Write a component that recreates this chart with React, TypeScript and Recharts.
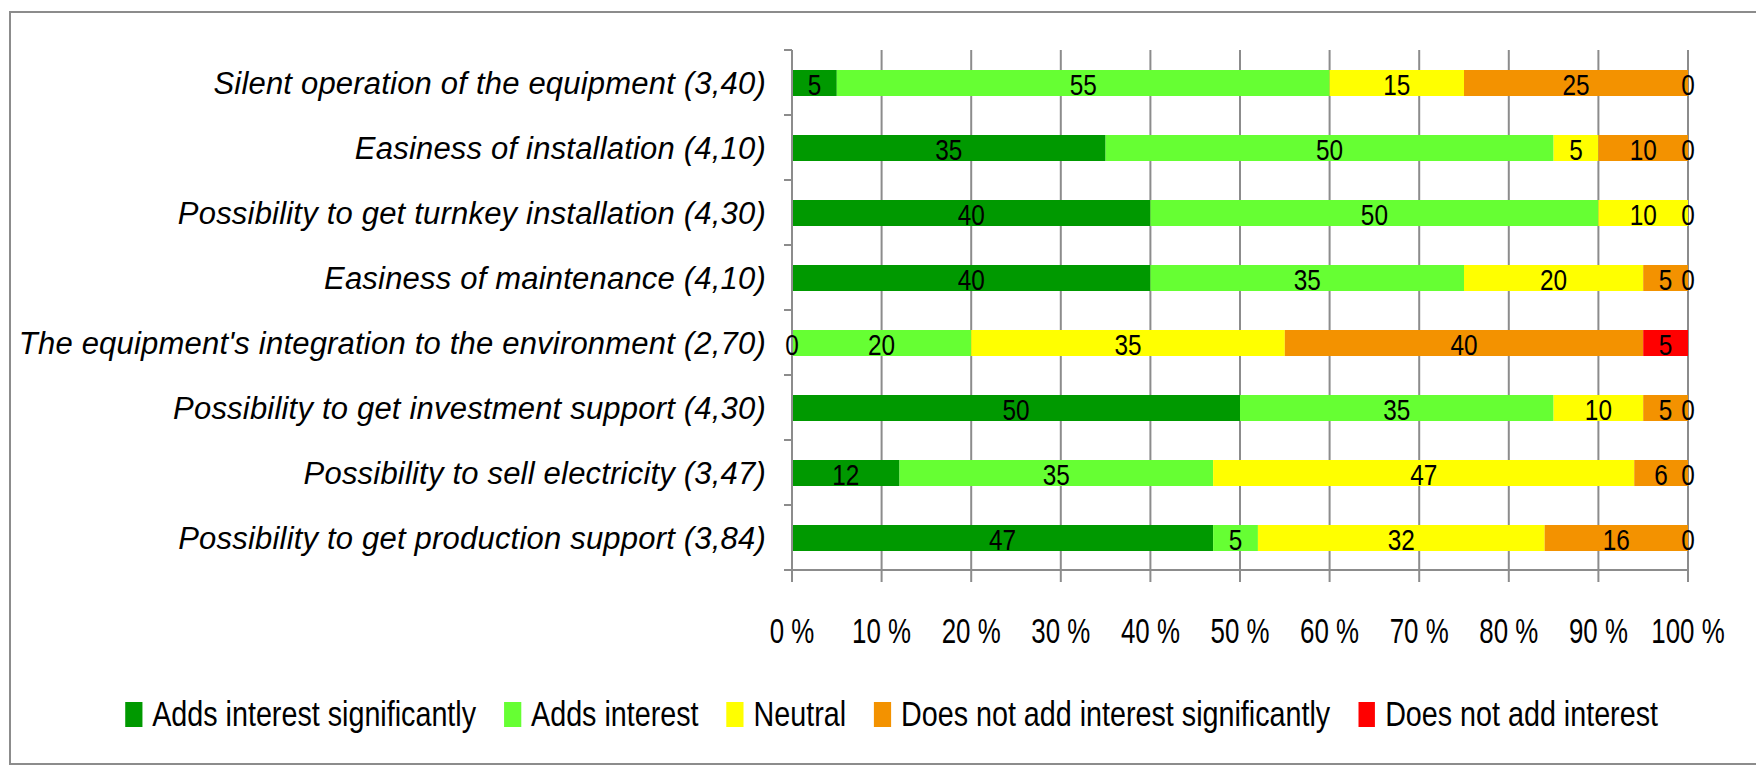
import { BarChart, Bar, XAxis, YAxis, CartesianGrid, Legend, LabelList } from "recharts"

const categories = [
  "Silent operation of the equipment (3,40)",
  "Easiness of installation (4,10)",
  "Possibility to get turnkey installation (4,30)",
  "Easiness of maintenance (4,10)",
  "The equipment's integration to the environment (2,70)",
  "Possibility to get investment support (4,30)",
  "Possibility to sell electricity (3,47)",
  "Possibility to get production support (3,84)",
]

const addsSignificantly = [5, 35, 40, 40, 0, 50, 12, 47]
const addsInterest = [55, 50, 50, 35, 20, 35, 35, 5]
const neutral = [15, 5, 10, 20, 35, 10, 47, 32]
const notSignificantly = [25, 10, 0, 5, 40, 5, 6, 16]
const notAdd = [0, 0, 0, 0, 5, 0, 0, 0]

const xTicks = [0, 10, 20, 30, 40, 50, 60, 70, 80, 90, 100]

const series = [
  { key: "sig", name: "Adds interest significantly", color: "#009900" },
  { key: "add", name: "Adds interest", color: "#66ff33" },
  { key: "neu", name: "Neutral", color: "#ffff00" },
  { key: "notSig", name: "Does not add interest significantly", color: "#f39200" },
  { key: "not", name: "Does not add interest", color: "#ff0000" },
]

const data = categories.map((name, i) => ({
  name,
  sig: addsSignificantly[i],
  add: addsInterest[i],
  neu: neutral[i],
  notSig: notSignificantly[i],
  not: notAdd[i],
}))

const FONT = '"Liberation Sans", Arial, sans-serif'
const GRID = "#8c8c8c"
const CHART_W = 1747
const CHART_H = 750
const MARGIN = { top: 37, right: 70, left: 0, bottom: 24 }
const X_AXIS_H = 119
const LEGEND_H = 50
const PLOT_H = CHART_H - MARGIN.top - MARGIN.bottom - X_AXIS_H - LEGEND_H
const BAND = PLOT_H / categories.length
const Y_TICK = 8
const Y_MARGIN = 18
// the original text is narrow and tall, so squeeze it horizontally
const TICK_SX = 0.74
const LABEL_SX = 0.84
const LEGEND_SX = 0.82

function CategoryTick(props: any) {
  const { x, y, payload, index } = props
  const axisX = x + Y_TICK + Y_MARGIN
  const top = y - BAND / 2
  const bottom = y + BAND / 2
  return (
    <g>
      <line x1={axisX - Y_TICK} x2={axisX} y1={top} y2={top} stroke={GRID} strokeWidth={2} />
      {index === categories.length - 1 && (
        <line x1={axisX - Y_TICK} x2={axisX} y1={bottom} y2={bottom} stroke={GRID} strokeWidth={2} />
      )}
      <text
        x={x}
        y={y}
        dy="0.36em"
        textAnchor="end"
        fill="#000"
        fontSize={31}
        letterSpacing={0.2}
        fontStyle="italic"
        fontFamily={FONT}
      >
        {payload.value}
      </text>
    </g>
  )
}

function PercentTick(props: any) {
  const { x, y, payload } = props
  return (
    <text
      transform={`translate(${x},${y + 1}) scale(${TICK_SX},1)`}
      dy="0.71em"
      textAnchor="middle"
      fill="#000"
      fontSize={35}
      fontFamily={FONT}
    >
      {`${payload.value} %`}
    </text>
  )
}

function Num({ x, y, value }: { x: number; y: number; value: number }) {
  return (
    <text
      transform={`translate(${x},${y}) scale(${LABEL_SX},1)`}
      dy="0.42em"
      textAnchor="middle"
      fill="#000"
      fontSize={29}
      fontFamily={FONT}
    >
      {value}
    </text>
  )
}

// zero-width segments get no label from Recharts, so the neighbouring
// segment also writes the "0" at its own edge
function SegmentLabel(props: any) {
  const { x, y, width, height, value, seriesIndex } = props
  const cy = y + height / 2
  const rowIndex = Math.round((cy - MARGIN.top - BAND / 2) / BAND)
  const row: any = data[rowIndex]
  const values = series.map((s) => (row ? row[s.key] : 1))
  const before = values.slice(0, seriesIndex)
  const after = values.slice(seriesIndex + 1)
  const leadingZero = seriesIndex > 0 && before.every((v) => v === 0)
  const trailingZero = after.length > 0 && after.every((v) => v === 0)
  return (
    <g>
      <Num x={x + width / 2} y={cy} value={value} />
      {leadingZero && <Num x={x} y={cy} value={0} />}
      {trailingZero && <Num x={x + width} y={cy} value={0} />}
    </g>
  )
}

function LegendContent() {
  return (
    <div
      style={{
        height: LEGEND_H,
        display: "flex",
        justifyContent: "center",
        alignItems: "center",
        paddingLeft: 14,
      }}
    >
      <div
        style={{
          display: "flex",
          alignItems: "center",
          whiteSpace: "nowrap",
          transform: `scaleX(${LEGEND_SX})`,
          fontFamily: FONT,
          fontSize: 35,
          color: "#000",
        }}
      >
        {series.map((s, i) => (
          <div
            key={s.key}
            style={{ display: "flex", alignItems: "center", marginLeft: i === 0 ? 0 : 28 / LEGEND_SX }}
          >
            <span
              style={{
                display: "inline-block",
                width: 17 / LEGEND_SX,
                height: 25,
                background: s.color,
                marginRight: 10 / LEGEND_SX,
              }}
            />
            <span>{s.name}</span>
          </div>
        ))}
      </div>
    </div>
  )
}

export default function App() {
  return (
    <div
      style={{
        width: CHART_W + 4,
        height: CHART_H + 4,
        marginLeft: 1,
        marginTop: 3,
        border: `2px solid ${GRID}`,
        boxSizing: "border-box",
        background: "#fff",
      }}
    >
      <BarChart width={CHART_W} height={CHART_H} data={data} layout="vertical" margin={MARGIN}>
        <CartesianGrid horizontal={false} stroke={GRID} strokeWidth={2} />
        <XAxis
          type="number"
          domain={[0, 100]}
          ticks={xTicks}
          height={X_AXIS_H}
          stroke={GRID}
          strokeWidth={2}
          tickSize={12}
          tickMargin={35}
          tick={<PercentTick />}
          interval={0}
        />
        <YAxis
          type="category"
          dataKey="name"
          width={781}
          stroke={GRID}
          strokeWidth={2}
          tickLine={false}
          tickSize={Y_TICK}
          tickMargin={Y_MARGIN}
          tick={<CategoryTick />}
          interval={0}
        />
        <Legend
          verticalAlign="bottom"
          height={LEGEND_H}
          wrapperStyle={{ left: 0, width: CHART_W }}
          content={<LegendContent />}
        />
        {series.map((s, k) => (
          <Bar
            key={s.key}
            dataKey={s.key}
            name={s.name}
            stackId="a"
            fill={s.color}
            barSize={26}
            isAnimationActive={false}
          >
            <LabelList dataKey={s.key} content={<SegmentLabel seriesIndex={k} />} />
          </Bar>
        ))}
      </BarChart>
    </div>
  )
}
